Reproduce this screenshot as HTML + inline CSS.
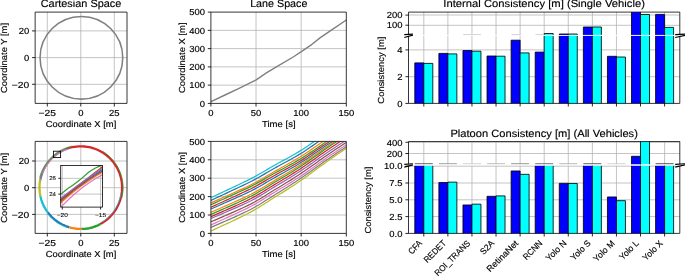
<!DOCTYPE html>
<html><head><meta charset="utf-8"><style>
html,body{margin:0;padding:0;background:#fff;}
svg{display:block;will-change:transform;}
text{font-family:"Liberation Sans", sans-serif;text-rendering:geometricPrecision;}
</style></head><body>
<svg width="685" height="276" viewBox="0 0 685 276">
<rect x="0" y="0" width="685" height="276" fill="#fff"/>
<line x1="47.30" y1="12.10" x2="47.30" y2="103.40" stroke="#b0b0b0" stroke-width="0.75"/>
<line x1="80.80" y1="12.10" x2="80.80" y2="103.40" stroke="#b0b0b0" stroke-width="0.75"/>
<line x1="114.30" y1="12.10" x2="114.30" y2="103.40" stroke="#b0b0b0" stroke-width="0.75"/>
<line x1="35.15" y1="30.90" x2="127.00" y2="30.90" stroke="#b0b0b0" stroke-width="0.75"/>
<line x1="35.15" y1="57.60" x2="127.00" y2="57.60" stroke="#b0b0b0" stroke-width="0.75"/>
<line x1="35.15" y1="84.30" x2="127.00" y2="84.30" stroke="#b0b0b0" stroke-width="0.75"/>
<circle cx="81.4" cy="57.8" r="41.35" fill="none" stroke="#808080" stroke-width="1.55"/>
<line x1="35.15" y1="12.10" x2="35.15" y2="103.40" stroke="#000" stroke-width="0.792"/>
<line x1="127.00" y1="12.10" x2="127.00" y2="103.40" stroke="#000" stroke-width="0.792"/>
<line x1="35.15" y1="12.10" x2="127.00" y2="12.10" stroke="#000" stroke-width="0.792"/>
<line x1="35.15" y1="103.40" x2="127.00" y2="103.40" stroke="#000" stroke-width="0.792"/>
<line x1="47.30" y1="103.40" x2="47.30" y2="106.50" stroke="#000" stroke-width="0.85"/>
<text x="47.30" y="115.60" font-size="8.75" text-anchor="middle" textLength="17.41" lengthAdjust="spacingAndGlyphs" fill="#000" stroke="#000" stroke-width="0.150">−25</text>
<line x1="80.80" y1="103.40" x2="80.80" y2="106.50" stroke="#000" stroke-width="0.85"/>
<text x="80.80" y="115.60" font-size="8.75" text-anchor="middle" textLength="5.25" lengthAdjust="spacingAndGlyphs" fill="#000" stroke="#000" stroke-width="0.150">0</text>
<line x1="114.30" y1="103.40" x2="114.30" y2="106.50" stroke="#000" stroke-width="0.85"/>
<text x="114.30" y="115.60" font-size="8.75" text-anchor="middle" textLength="10.50" lengthAdjust="spacingAndGlyphs" fill="#000" stroke="#000" stroke-width="0.150">25</text>
<line x1="32.05" y1="30.90" x2="35.15" y2="30.90" stroke="#000" stroke-width="0.85"/>
<text x="29.15" y="34.10" font-size="8.75" text-anchor="end" textLength="10.50" lengthAdjust="spacingAndGlyphs" fill="#000" stroke="#000" stroke-width="0.150">20</text>
<line x1="32.05" y1="57.60" x2="35.15" y2="57.60" stroke="#000" stroke-width="0.85"/>
<text x="29.15" y="60.80" font-size="8.75" text-anchor="end" textLength="5.25" lengthAdjust="spacingAndGlyphs" fill="#000" stroke="#000" stroke-width="0.150">0</text>
<line x1="32.05" y1="84.30" x2="35.15" y2="84.30" stroke="#000" stroke-width="0.85"/>
<text x="29.15" y="87.50" font-size="8.75" text-anchor="end" textLength="17.41" lengthAdjust="spacingAndGlyphs" fill="#000" stroke="#000" stroke-width="0.150">−20</text>
<text x="81.00" y="127.10" font-size="8.75" text-anchor="middle" textLength="70.60" lengthAdjust="spacingAndGlyphs" fill="#000" stroke="#000" stroke-width="0.150">Coordinate X [m]</text>
<text transform="translate(6.70,58.00) rotate(-90)" font-size="8.75" text-anchor="middle" textLength="69.98" lengthAdjust="spacingAndGlyphs" fill="#000" stroke="#000" stroke-width="0.150">Coordinate Y [m]</text>
<text x="81.00" y="7.00" font-size="10.49" text-anchor="middle" textLength="80.59" lengthAdjust="spacingAndGlyphs" fill="#000" stroke="#000" stroke-width="0.150">Cartesian Space</text>
<line x1="256.03" y1="12.10" x2="256.03" y2="103.40" stroke="#b0b0b0" stroke-width="0.75"/>
<line x1="301.17" y1="12.10" x2="301.17" y2="103.40" stroke="#b0b0b0" stroke-width="0.75"/>
<line x1="210.90" y1="85.14" x2="346.30" y2="85.14" stroke="#b0b0b0" stroke-width="0.75"/>
<line x1="210.90" y1="66.88" x2="346.30" y2="66.88" stroke="#b0b0b0" stroke-width="0.75"/>
<line x1="210.90" y1="48.62" x2="346.30" y2="48.62" stroke="#b0b0b0" stroke-width="0.75"/>
<line x1="210.90" y1="30.36" x2="346.30" y2="30.36" stroke="#b0b0b0" stroke-width="0.75"/>
<polyline points="211.00,101.70 225.00,95.00 238.00,88.90 256.20,79.80 266.00,73.20 276.00,67.10 294.00,56.50 301.30,51.70 312.00,44.30 320.00,37.90 324.00,35.10 331.00,30.30 346.30,20.00" fill="none" stroke="#808080" stroke-width="1.4" stroke-linejoin="round" stroke-linecap="butt"/>
<line x1="210.90" y1="12.10" x2="210.90" y2="103.40" stroke="#000" stroke-width="0.792"/>
<line x1="346.30" y1="12.10" x2="346.30" y2="103.40" stroke="#000" stroke-width="0.792"/>
<line x1="210.90" y1="12.10" x2="346.30" y2="12.10" stroke="#000" stroke-width="0.792"/>
<line x1="210.90" y1="103.40" x2="346.30" y2="103.40" stroke="#000" stroke-width="0.792"/>
<line x1="210.90" y1="103.40" x2="210.90" y2="106.50" stroke="#000" stroke-width="0.85"/>
<text x="210.90" y="115.60" font-size="8.75" text-anchor="middle" textLength="5.25" lengthAdjust="spacingAndGlyphs" fill="#000" stroke="#000" stroke-width="0.150">0</text>
<line x1="256.03" y1="103.40" x2="256.03" y2="106.50" stroke="#000" stroke-width="0.85"/>
<text x="256.03" y="115.60" font-size="8.75" text-anchor="middle" textLength="10.50" lengthAdjust="spacingAndGlyphs" fill="#000" stroke="#000" stroke-width="0.150">50</text>
<line x1="301.17" y1="103.40" x2="301.17" y2="106.50" stroke="#000" stroke-width="0.85"/>
<text x="301.17" y="115.60" font-size="8.75" text-anchor="middle" textLength="15.75" lengthAdjust="spacingAndGlyphs" fill="#000" stroke="#000" stroke-width="0.150">100</text>
<line x1="346.30" y1="103.40" x2="346.30" y2="106.50" stroke="#000" stroke-width="0.85"/>
<text x="346.30" y="115.60" font-size="8.75" text-anchor="middle" textLength="15.75" lengthAdjust="spacingAndGlyphs" fill="#000" stroke="#000" stroke-width="0.150">150</text>
<line x1="207.80" y1="103.40" x2="210.90" y2="103.40" stroke="#000" stroke-width="0.85"/>
<text x="204.90" y="106.60" font-size="8.75" text-anchor="end" textLength="5.25" lengthAdjust="spacingAndGlyphs" fill="#000" stroke="#000" stroke-width="0.150">0</text>
<line x1="207.80" y1="85.14" x2="210.90" y2="85.14" stroke="#000" stroke-width="0.85"/>
<text x="204.90" y="88.34" font-size="8.75" text-anchor="end" textLength="15.75" lengthAdjust="spacingAndGlyphs" fill="#000" stroke="#000" stroke-width="0.150">100</text>
<line x1="207.80" y1="66.88" x2="210.90" y2="66.88" stroke="#000" stroke-width="0.85"/>
<text x="204.90" y="70.08" font-size="8.75" text-anchor="end" textLength="15.75" lengthAdjust="spacingAndGlyphs" fill="#000" stroke="#000" stroke-width="0.150">200</text>
<line x1="207.80" y1="48.62" x2="210.90" y2="48.62" stroke="#000" stroke-width="0.85"/>
<text x="204.90" y="51.82" font-size="8.75" text-anchor="end" textLength="15.75" lengthAdjust="spacingAndGlyphs" fill="#000" stroke="#000" stroke-width="0.150">300</text>
<line x1="207.80" y1="30.36" x2="210.90" y2="30.36" stroke="#000" stroke-width="0.85"/>
<text x="204.90" y="33.56" font-size="8.75" text-anchor="end" textLength="15.75" lengthAdjust="spacingAndGlyphs" fill="#000" stroke="#000" stroke-width="0.150">400</text>
<line x1="207.80" y1="12.10" x2="210.90" y2="12.10" stroke="#000" stroke-width="0.85"/>
<text x="204.90" y="15.30" font-size="8.75" text-anchor="end" textLength="15.75" lengthAdjust="spacingAndGlyphs" fill="#000" stroke="#000" stroke-width="0.150">500</text>
<text x="278.80" y="127.10" font-size="8.75" text-anchor="middle" textLength="33.55" lengthAdjust="spacingAndGlyphs" fill="#000" stroke="#000" stroke-width="0.150">Time [s]</text>
<text transform="translate(184.60,57.80) rotate(-90)" font-size="8.75" text-anchor="middle" textLength="70.60" lengthAdjust="spacingAndGlyphs" fill="#000" stroke="#000" stroke-width="0.150">Coordinate X [m]</text>
<text x="278.80" y="7.00" font-size="10.49" text-anchor="middle" textLength="57.26" lengthAdjust="spacingAndGlyphs" fill="#000" stroke="#000" stroke-width="0.150">Lane Space</text>
<line x1="47.30" y1="141.40" x2="47.30" y2="233.40" stroke="#b0b0b0" stroke-width="0.75"/>
<line x1="80.80" y1="141.40" x2="80.80" y2="233.40" stroke="#b0b0b0" stroke-width="0.75"/>
<line x1="114.30" y1="141.40" x2="114.30" y2="233.40" stroke="#b0b0b0" stroke-width="0.75"/>
<line x1="35.15" y1="161.00" x2="127.00" y2="161.00" stroke="#b0b0b0" stroke-width="0.75"/>
<line x1="35.15" y1="187.70" x2="127.00" y2="187.70" stroke="#b0b0b0" stroke-width="0.75"/>
<line x1="35.15" y1="214.40" x2="127.00" y2="214.40" stroke="#b0b0b0" stroke-width="0.75"/>
<polyline points="100.19,224.07 102.06,223.01 103.87,221.85 105.62,220.61 107.31,219.27 108.92,217.85 110.46,216.34 111.91,214.76 113.28,213.11 114.56,211.38 115.76,209.59 116.85,207.75 117.85,205.84 118.75,203.89 119.55,201.89 120.24,199.86 120.82,197.79 121.30,195.70 121.67,193.58 121.92,191.44 122.07,189.30 122.10,187.15 122.02,185.00 121.83,182.86 121.53,180.73 121.11,178.62 120.59,176.54 119.96,174.48 119.23,172.46 118.39,170.48 117.45,168.55 116.40,166.67 115.27,164.85 114.04,163.09 112.72,161.39 111.31,159.76 109.82,158.22 108.25,156.75 106.61,155.36 104.90,154.06 103.12,152.85 101.28,151.74 99.39,150.72 97.45,149.80 95.46,148.99 93.43,148.28 91.36,147.67 89.27,147.18 87.16,146.79 85.03,146.52 82.88,146.35 80.74,146.30 78.59,146.36 76.44,146.53 74.31,146.81 72.20,147.21 70.11,147.71" fill="none" stroke="#d62728" stroke-width="2.3" stroke-linejoin="round" stroke-linecap="butt"/>
<polyline points="70.11,147.71 68.50,148.18 66.90,148.71 65.33,149.31" fill="none" stroke="#8c564b" stroke-width="2.3" stroke-linejoin="round" stroke-linecap="butt"/>
<polyline points="65.33,149.31 63.38,150.15 61.48,151.10 59.63,152.14 57.83,153.28 56.10,154.50 54.43,155.82 52.83,157.21 51.30,158.69 49.86,160.25 48.49,161.88 47.21,163.57 46.02,165.33 44.92,167.15 43.92,169.02 43.01,170.94 42.20,172.91 41.50,174.91 40.90,176.95 40.40,179.01" fill="none" stroke="#7f7f7f" stroke-width="2.3" stroke-linejoin="round" stroke-linecap="butt"/>
<polyline points="40.40,179.01 40.05,180.90 39.78,182.81 39.60,184.72 39.51,186.64 39.51,188.56 39.60,190.48 39.78,192.39 40.05,194.30 40.40,196.19" fill="none" stroke="#bcbd22" stroke-width="2.3" stroke-linejoin="round" stroke-linecap="butt"/>
<polyline points="40.40,196.19 40.87,198.13 41.42,200.06 42.07,201.95 42.81,203.81 43.64,205.63 44.56,207.41 45.57,209.15 46.65,210.83 47.82,212.45" fill="none" stroke="#17becf" stroke-width="2.3" stroke-linejoin="round" stroke-linecap="butt"/>
<polyline points="47.82,212.45 49.09,214.06 50.44,215.60 51.87,217.08 53.37,218.48 54.94,219.80 56.57,221.04 58.26,222.21 60.01,223.28 61.80,224.27 63.65,225.17 65.53,225.98 67.46,226.69 69.42,227.30" fill="none" stroke="#1f77b4" stroke-width="2.3" stroke-linejoin="round" stroke-linecap="butt"/>
<polyline points="69.42,227.30 71.39,227.81 73.39,228.23 75.41,228.55 77.44,228.76 79.48,228.88 81.52,228.89" fill="none" stroke="#ff7f0e" stroke-width="2.3" stroke-linejoin="round" stroke-linecap="butt"/>
<polyline points="81.52,228.89 83.47,228.81 85.40,228.64 87.33,228.38 89.25,228.03 91.14,227.58 93.01,227.05 94.86,226.43 96.67,225.73 98.45,224.94 100.19,224.07" fill="none" stroke="#2ca02c" stroke-width="2.3" stroke-linejoin="round" stroke-linecap="butt"/>
<polyline points="121.61,198.54 122.11,196.44 122.51,194.33 122.80,192.19 122.98,190.05 123.05,187.89 123.01,185.74 122.86,183.59 122.60,181.46 122.23,179.34 121.76,177.24 121.18,175.16 120.49,173.12 119.70,171.12 118.81,169.16 117.82,167.25 116.74,165.39 115.56,163.58 114.29,161.84 112.94,160.17 111.50,158.57 109.98,157.04 108.38,155.60 106.72,154.23 104.99,152.96 103.19,151.77" fill="none" stroke="#2ca02c" stroke-width="0.75" stroke-linejoin="round" stroke-linecap="butt"/>
<polyline points="71.99,146.18 69.90,146.68 67.84,147.28 65.81,147.99 63.82,148.80 61.87,149.71 59.98,150.72 58.13,151.83 56.34,153.02 54.62,154.31 52.97,155.68 51.38,157.14 49.87,158.67 48.44,160.28 47.10,161.95 45.84,163.70 44.67,165.50 43.60,167.36 42.62,169.28 41.74,171.24 40.96,173.24 40.28,175.28 39.71,177.35" fill="none" stroke="#2ca02c" stroke-width="0.6" stroke-linejoin="round" stroke-linecap="butt"/>
<polyline points="47.10,213.00 48.43,214.68 49.85,216.29 51.35,217.83 52.93,219.29 54.58,220.66 56.29,221.96 58.07,223.16 59.91,224.27 61.81,225.28 63.75,226.20 65.73,227.02 67.76,227.73" fill="none" stroke="#17becf" stroke-width="0.75" stroke-linejoin="round" stroke-linecap="butt"/>
<polyline points="84.47,229.59 86.58,229.35 88.66,229.01 90.73,228.56 92.77,228.01 94.78,227.36 96.76,226.61 98.70,225.76 100.59,224.82" fill="none" stroke="#2ca02c" stroke-width="0.75" stroke-linejoin="round" stroke-linecap="butt"/>
<polyline points="68.25,148.99 66.32,149.67 64.43,150.45 62.58,151.32 60.77,152.28 59.02,153.34 57.32,154.48 55.68,155.70 54.10,157.01 52.60,158.39 51.16,159.85 49.80,161.38 48.52,162.98 47.32,164.64 46.20,166.35 45.18,168.12 44.24,169.94 43.40,171.81 42.65,173.71" fill="none" stroke="#e377c2" stroke-width="1.0" stroke-linejoin="round" stroke-linecap="butt"/>
<polyline points="101.03,222.63 102.76,221.57 104.45,220.42 106.07,219.18 107.63,217.87 109.12,216.48 110.54,215.01 111.89,213.48 113.15,211.88 114.33,210.22 115.43,208.50 116.44,206.73 117.36,204.91 118.19,203.04 118.92,201.14 119.55,199.20 120.09,197.23 120.52,195.24 120.86,193.23" fill="none" stroke="#17becf" stroke-width="0.75" stroke-linejoin="round" stroke-linecap="butt"/>
<polyline points="42.65,173.71 42.08,175.39 41.58,177.09 41.16,178.81 40.82,180.55" fill="none" stroke="#9467bd" stroke-width="0.8" stroke-linejoin="round" stroke-linecap="butt"/>
<rect x="53.50" y="151.20" width="7.10" height="6.40" fill="none" stroke="#000" stroke-width="0.85"/>
<rect x="60.70" y="165.50" width="41.90" height="41.60" fill="#fff" stroke="none" stroke-width="0.8"/>
<line x1="62.30" y1="165.50" x2="62.30" y2="207.10" stroke="#b0b0b0" stroke-width="0.75"/>
<line x1="100.60" y1="165.50" x2="100.60" y2="207.10" stroke="#b0b0b0" stroke-width="0.75"/>
<line x1="60.70" y1="178.30" x2="102.60" y2="178.30" stroke="#b0b0b0" stroke-width="0.75"/>
<line x1="60.70" y1="194.10" x2="102.60" y2="194.10" stroke="#b0b0b0" stroke-width="0.75"/>
<clipPath id="inset"><rect x="60.7" y="165.5" width="41.89999999999999" height="41.599999999999994"/></clipPath>
<g clip-path="url(#inset)">
<polyline points="59.50,200.80 63.12,197.88 66.75,195.02 70.38,192.21 74.00,189.45 77.62,186.74 81.25,184.09 84.88,181.49 88.50,178.95 92.12,176.46 95.75,174.02 99.38,171.63 103.00,169.30" fill="none" stroke="#1f77b4" stroke-width="1.2374999999999998" stroke-linejoin="round" stroke-linecap="butt"/>
<polyline points="59.50,204.00 63.12,200.74 66.75,197.60 70.38,194.56 74.00,191.62 77.62,188.79 81.25,186.07 84.88,183.46 88.50,180.95 92.12,178.56 95.75,176.26 99.38,174.08 103.00,172.00" fill="none" stroke="#ff7f0e" stroke-width="1.2374999999999998" stroke-linejoin="round" stroke-linecap="butt"/>
<polyline points="59.50,194.80 62.00,193.20 67.80,188.40 72.50,185.40 80.30,179.60 88.90,172.00 95.00,168.30 100.60,165.60 103.00,164.60" fill="none" stroke="#2ca02c" stroke-width="1.2374999999999998" stroke-linejoin="round" stroke-linecap="butt"/>
<polyline points="59.50,200.50 63.12,197.62 66.75,194.75 70.38,191.89 74.00,189.03 77.62,186.17 81.25,183.32 84.88,180.47 88.50,177.63 92.12,174.79 95.75,171.95 99.38,169.12 103.00,166.30" fill="none" stroke="#d62728" stroke-width="1.2374999999999998" stroke-linejoin="round" stroke-linecap="butt"/>
<polyline points="59.50,199.40 63.12,196.54 66.75,193.73 70.38,190.96 74.00,188.23 77.62,185.54 81.25,182.89 84.88,180.29 88.50,177.73 92.12,175.21 95.75,172.73 99.38,170.29 103.00,167.90" fill="none" stroke="#9467bd" stroke-width="1.2374999999999998" stroke-linejoin="round" stroke-linecap="butt"/>
<polyline points="59.50,202.50 63.12,199.32 66.75,196.24 70.38,193.25 74.00,190.36 77.62,187.57 81.25,184.88 84.88,182.29 88.50,179.80 92.12,177.40 95.75,175.10 99.38,172.90 103.00,170.80" fill="none" stroke="#8c564b" stroke-width="1.2374999999999998" stroke-linejoin="round" stroke-linecap="butt"/>
<polyline points="59.50,208.60 63.12,204.83 66.75,201.23 70.38,197.80 74.00,194.53 77.62,191.44 81.25,188.51 84.88,185.75 88.50,183.16 92.12,180.75 95.75,178.49 99.38,176.41 103.00,174.50" fill="none" stroke="#e377c2" stroke-width="1.2374999999999998" stroke-linejoin="round" stroke-linecap="butt"/>
</g>
<rect x="60.70" y="165.50" width="41.90" height="41.60" fill="none" stroke="#000" stroke-width="0.792"/>
<line x1="62.30" y1="207.10" x2="62.30" y2="209.50" stroke="#000" stroke-width="0.85"/>
<line x1="100.60" y1="207.10" x2="100.60" y2="209.50" stroke="#000" stroke-width="0.85"/>
<line x1="58.30" y1="178.30" x2="60.70" y2="178.30" stroke="#000" stroke-width="0.85"/>
<line x1="58.30" y1="194.10" x2="60.70" y2="194.10" stroke="#000" stroke-width="0.85"/>
<text x="62.30" y="216.60" font-size="5.62" text-anchor="middle" textLength="11.18" lengthAdjust="spacingAndGlyphs" fill="#000" stroke="#000" stroke-width="0.062">−20</text>
<text x="100.60" y="216.60" font-size="5.62" text-anchor="middle" textLength="11.18" lengthAdjust="spacingAndGlyphs" fill="#000" stroke="#000" stroke-width="0.062">−15</text>
<text x="56.00" y="180.30" font-size="5.62" text-anchor="end" textLength="6.74" lengthAdjust="spacingAndGlyphs" fill="#000" stroke="#000" stroke-width="0.062">26</text>
<text x="56.00" y="196.30" font-size="5.62" text-anchor="end" textLength="6.74" lengthAdjust="spacingAndGlyphs" fill="#000" stroke="#000" stroke-width="0.062">24</text>
<line x1="35.15" y1="141.40" x2="35.15" y2="233.40" stroke="#000" stroke-width="0.792"/>
<line x1="127.00" y1="141.40" x2="127.00" y2="233.40" stroke="#000" stroke-width="0.792"/>
<line x1="35.15" y1="141.40" x2="127.00" y2="141.40" stroke="#000" stroke-width="0.792"/>
<line x1="35.15" y1="233.40" x2="127.00" y2="233.40" stroke="#000" stroke-width="0.792"/>
<line x1="47.30" y1="233.40" x2="47.30" y2="236.50" stroke="#000" stroke-width="0.85"/>
<text x="47.30" y="245.60" font-size="8.75" text-anchor="middle" textLength="17.41" lengthAdjust="spacingAndGlyphs" fill="#000" stroke="#000" stroke-width="0.150">−25</text>
<line x1="80.80" y1="233.40" x2="80.80" y2="236.50" stroke="#000" stroke-width="0.85"/>
<text x="80.80" y="245.60" font-size="8.75" text-anchor="middle" textLength="5.25" lengthAdjust="spacingAndGlyphs" fill="#000" stroke="#000" stroke-width="0.150">0</text>
<line x1="114.30" y1="233.40" x2="114.30" y2="236.50" stroke="#000" stroke-width="0.85"/>
<text x="114.30" y="245.60" font-size="8.75" text-anchor="middle" textLength="10.50" lengthAdjust="spacingAndGlyphs" fill="#000" stroke="#000" stroke-width="0.150">25</text>
<line x1="32.05" y1="161.00" x2="35.15" y2="161.00" stroke="#000" stroke-width="0.85"/>
<text x="29.15" y="164.20" font-size="8.75" text-anchor="end" textLength="10.50" lengthAdjust="spacingAndGlyphs" fill="#000" stroke="#000" stroke-width="0.150">20</text>
<line x1="32.05" y1="187.70" x2="35.15" y2="187.70" stroke="#000" stroke-width="0.85"/>
<text x="29.15" y="190.90" font-size="8.75" text-anchor="end" textLength="5.25" lengthAdjust="spacingAndGlyphs" fill="#000" stroke="#000" stroke-width="0.150">0</text>
<line x1="32.05" y1="214.40" x2="35.15" y2="214.40" stroke="#000" stroke-width="0.85"/>
<text x="29.15" y="217.60" font-size="8.75" text-anchor="end" textLength="17.41" lengthAdjust="spacingAndGlyphs" fill="#000" stroke="#000" stroke-width="0.150">−20</text>
<text x="81.00" y="257.10" font-size="8.75" text-anchor="middle" textLength="70.60" lengthAdjust="spacingAndGlyphs" fill="#000" stroke="#000" stroke-width="0.150">Coordinate X [m]</text>
<text transform="translate(6.70,187.80) rotate(-90)" font-size="8.75" text-anchor="middle" textLength="69.98" lengthAdjust="spacingAndGlyphs" fill="#000" stroke="#000" stroke-width="0.150">Coordinate Y [m]</text>
<line x1="256.03" y1="141.40" x2="256.03" y2="233.40" stroke="#b0b0b0" stroke-width="0.75"/>
<line x1="301.17" y1="141.40" x2="301.17" y2="233.40" stroke="#b0b0b0" stroke-width="0.75"/>
<line x1="210.90" y1="215.00" x2="346.30" y2="215.00" stroke="#b0b0b0" stroke-width="0.75"/>
<line x1="210.90" y1="196.60" x2="346.30" y2="196.60" stroke="#b0b0b0" stroke-width="0.75"/>
<line x1="210.90" y1="178.20" x2="346.30" y2="178.20" stroke="#b0b0b0" stroke-width="0.75"/>
<line x1="210.90" y1="159.80" x2="346.30" y2="159.80" stroke="#b0b0b0" stroke-width="0.75"/>
<clipPath id="bm"><rect x="210.9" y="141.4" width="135.4" height="92.0"/></clipPath>
<g clip-path="url(#bm)">
<polyline points="211.00,209.00 215.00,207.22 219.00,205.45 223.00,203.68 225.00,202.80 227.00,201.92 231.00,200.17 235.00,198.39 238.00,197.05 239.00,196.59 243.00,194.77 247.00,192.93 251.00,190.98 255.00,188.89 256.10,188.30 256.20,188.25 259.00,186.69 263.00,184.42 266.00,182.65 267.00,182.05 271.00,179.71 275.00,177.42 276.00,176.86 279.00,175.19 283.00,172.97 287.00,170.75 291.00,168.48 294.00,166.75 295.00,166.16 299.00,163.75 301.20,162.40 301.30,162.34 303.00,161.28 307.00,158.68 311.00,155.97 312.00,155.29 315.00,153.23 319.00,150.50 320.00,149.81 323.00,147.77 324.00,147.09 327.00,145.10 331.00,142.53 335.00,140.00 339.00,137.48 343.00,134.97 346.30,132.90 347.00,132.46 352.00,129.33" fill="none" stroke="#1f77b4" stroke-width="1.2374999999999998" stroke-linejoin="round" stroke-linecap="butt"/>
<polyline points="211.00,212.20 215.00,210.45 219.00,208.71 223.00,206.96 225.00,206.09 227.00,205.22 231.00,203.48 235.00,201.71 238.00,200.37 239.00,199.91 243.00,198.09 247.00,196.23 251.00,194.24 255.00,192.11 256.10,191.50 256.20,191.44 259.00,189.85 263.00,187.50 266.00,185.67 267.00,185.05 271.00,182.61 275.00,180.23 276.00,179.64 279.00,177.89 283.00,175.55 287.00,173.22 291.00,170.82 294.00,168.99 295.00,168.37 299.00,165.83 301.20,164.40 301.30,164.34 303.00,163.25 307.00,160.58 311.00,157.81 312.00,157.11 315.00,155.00 319.00,152.19 320.00,151.49 323.00,149.39 324.00,148.69 327.00,146.65 331.00,144.02 335.00,141.42 339.00,138.84 343.00,136.27 346.30,134.14 347.00,133.69 352.00,130.48" fill="none" stroke="#ff7f0e" stroke-width="1.2374999999999998" stroke-linejoin="round" stroke-linecap="butt"/>
<polyline points="211.00,214.40 215.00,212.64 219.00,210.88 223.00,209.12 225.00,208.25 227.00,207.37 231.00,205.61 235.00,203.82 238.00,202.47 239.00,202.01 243.00,200.16 247.00,198.28 251.00,196.27 255.00,194.11 256.10,193.50 256.20,193.44 259.00,191.83 263.00,189.45 266.00,187.59 267.00,186.97 271.00,184.50 275.00,182.07 276.00,181.48 279.00,179.70 283.00,177.33 287.00,174.96 291.00,172.53 294.00,170.66 295.00,170.03 299.00,167.45 301.20,166.00 301.30,165.94 303.00,164.84 307.00,162.13 311.00,159.33 312.00,158.62 315.00,156.48 319.00,153.64 320.00,152.92 323.00,150.80 324.00,150.10 327.00,148.03 331.00,145.36 335.00,142.73 339.00,140.12 343.00,137.51 346.30,135.36 347.00,134.91 352.00,131.65" fill="none" stroke="#2ca02c" stroke-width="1.2374999999999998" stroke-linejoin="round" stroke-linecap="butt"/>
<polyline points="211.00,216.60 215.00,214.85 219.00,213.11 223.00,211.36 225.00,210.49 227.00,209.62 231.00,207.87 235.00,206.10 238.00,204.75 239.00,204.29 243.00,202.45 247.00,200.58 251.00,198.57 255.00,196.41 256.10,195.80 256.20,195.74 259.00,194.13 263.00,191.75 266.00,189.89 267.00,189.26 271.00,186.78 275.00,184.35 276.00,183.76 279.00,181.97 283.00,179.59 287.00,177.20 291.00,174.76 294.00,172.89 295.00,172.25 299.00,169.66 301.20,168.20 301.30,168.14 303.00,167.04 307.00,164.33 311.00,161.53 312.00,160.82 315.00,158.68 319.00,155.84 320.00,155.12 323.00,153.00 324.00,152.30 327.00,150.23 331.00,147.56 335.00,144.93 339.00,142.32 343.00,139.71 346.30,137.56 347.00,137.11 352.00,133.85" fill="none" stroke="#d62728" stroke-width="1.2374999999999998" stroke-linejoin="round" stroke-linecap="butt"/>
<polyline points="211.00,218.50 215.00,216.78 219.00,215.07 223.00,213.36 225.00,212.50 227.00,211.65 231.00,209.93 235.00,208.18 238.00,206.85 239.00,206.40 243.00,204.58 247.00,202.73 251.00,200.74 255.00,198.61 256.10,198.00 256.20,197.94 259.00,196.34 263.00,193.98 266.00,192.13 267.00,191.51 271.00,189.04 275.00,186.62 276.00,186.03 279.00,184.24 283.00,181.87 287.00,179.49 291.00,177.05 294.00,175.18 295.00,174.54 299.00,171.96 301.20,170.50 301.30,170.44 303.00,169.35 307.00,166.67 311.00,163.88 312.00,163.18 315.00,161.06 319.00,158.24 320.00,157.53 323.00,155.43 324.00,154.73 327.00,152.68 331.00,150.03 335.00,147.43 339.00,144.83 343.00,142.25 346.30,140.12 347.00,139.67 352.00,136.44" fill="none" stroke="#9467bd" stroke-width="1.2374999999999998" stroke-linejoin="round" stroke-linecap="butt"/>
<polyline points="211.00,221.80 215.00,220.07 219.00,218.34 223.00,216.62 225.00,215.75 227.00,214.89 231.00,213.16 235.00,211.39 238.00,210.05 239.00,209.60 243.00,207.76 247.00,205.89 251.00,203.88 255.00,201.72 256.10,201.10 256.20,201.04 259.00,199.42 263.00,197.03 266.00,195.15 267.00,194.52 271.00,192.02 275.00,189.57 276.00,188.96 279.00,187.16 283.00,184.75 287.00,182.33 291.00,179.85 294.00,177.95 295.00,177.31 299.00,174.68 301.20,173.20 301.30,173.14 303.00,172.03 307.00,169.32 311.00,166.50 312.00,165.79 315.00,163.64 319.00,160.79 320.00,160.07 323.00,157.94 324.00,157.23 327.00,155.16 331.00,152.48 335.00,149.84 339.00,147.21 343.00,144.60 346.30,142.44 347.00,141.98 352.00,138.71" fill="none" stroke="#8c564b" stroke-width="1.2374999999999998" stroke-linejoin="round" stroke-linecap="butt"/>
<polyline points="211.00,224.90 215.00,223.09 219.00,221.27 223.00,219.47 225.00,218.56 227.00,217.66 231.00,215.85 235.00,214.02 238.00,212.64 239.00,212.17 243.00,210.28 247.00,208.36 251.00,206.31 255.00,204.12 256.10,203.50 256.20,203.44 259.00,201.81 263.00,199.40 266.00,197.52 267.00,196.89 271.00,194.39 275.00,191.95 276.00,191.35 279.00,189.56 283.00,187.18 287.00,184.79 291.00,182.35 294.00,180.48 295.00,179.84 299.00,177.26 301.20,175.80 301.30,175.73 303.00,174.62 307.00,171.88 311.00,169.03 312.00,168.31 315.00,166.14 319.00,163.26 320.00,162.53 323.00,160.38 324.00,159.67 327.00,157.57 331.00,154.86 335.00,152.20 339.00,149.55 343.00,146.90 346.30,144.72 347.00,144.26 352.00,140.96" fill="none" stroke="#e377c2" stroke-width="1.2374999999999998" stroke-linejoin="round" stroke-linecap="butt"/>
<polyline points="211.00,227.40 215.00,225.65 219.00,223.90 223.00,222.15 225.00,221.27 227.00,220.40 231.00,218.64 235.00,216.85 238.00,215.49 239.00,215.03 243.00,213.17 247.00,211.26 251.00,209.22 255.00,207.03 256.10,206.40 256.20,206.34 259.00,204.69 263.00,202.26 266.00,200.35 267.00,199.71 271.00,197.17 275.00,194.67 276.00,194.05 279.00,192.21 283.00,189.76 287.00,187.30 291.00,184.78 294.00,182.84 295.00,182.18 299.00,179.51 301.20,178.00 301.30,177.93 303.00,176.81 307.00,174.05 311.00,171.19 312.00,170.47 315.00,168.28 319.00,165.38 320.00,164.65 323.00,162.49 324.00,161.77 327.00,159.66 331.00,156.94 335.00,154.25 339.00,151.59 343.00,148.92 346.30,146.73 347.00,146.27 352.00,142.94" fill="none" stroke="#7f7f7f" stroke-width="1.2374999999999998" stroke-linejoin="round" stroke-linecap="butt"/>
<polyline points="211.00,231.00 215.00,229.14 219.00,227.28 223.00,225.43 225.00,224.50 227.00,223.58 231.00,221.72 235.00,219.84 238.00,218.41 239.00,217.93 243.00,215.99 247.00,214.01 251.00,211.90 255.00,209.64 256.10,209.00 256.20,208.94 259.00,207.25 263.00,204.76 266.00,202.82 267.00,202.17 271.00,199.58 275.00,197.05 276.00,196.43 279.00,194.57 283.00,192.10 287.00,189.63 291.00,187.10 294.00,185.16 295.00,184.50 299.00,181.81 301.20,180.30 301.30,180.23 303.00,179.08 307.00,176.25 311.00,173.31 312.00,172.57 315.00,170.33 319.00,167.35 320.00,166.60 323.00,164.38 324.00,163.64 327.00,161.48 331.00,158.68 335.00,155.93 339.00,153.19 343.00,150.46 346.30,148.21 347.00,147.73 352.00,144.32" fill="none" stroke="#bcbd22" stroke-width="1.2374999999999998" stroke-linejoin="round" stroke-linecap="butt"/>
<polyline points="211.00,197.70 215.00,195.79 219.00,193.89 223.00,191.99 225.00,191.05 227.00,190.11 231.00,188.24 235.00,186.35 238.00,184.94 239.00,184.46 243.00,182.56 247.00,180.65 251.00,178.63 255.00,176.50 256.10,175.90 256.20,175.85 259.00,174.27 263.00,171.97 266.00,170.19 267.00,169.60 271.00,167.26 275.00,164.99 276.00,164.43 279.00,162.79 283.00,160.61 287.00,158.44 291.00,156.23 294.00,154.54 295.00,153.96 299.00,151.62 301.20,150.30 301.30,150.24 303.00,149.16 307.00,146.51 311.00,143.76 312.00,143.07 315.00,140.98 319.00,138.19 320.00,137.49 323.00,135.41 324.00,134.73 327.00,132.70 331.00,130.09 335.00,127.52 339.00,124.95 343.00,122.40 346.30,120.30 347.00,119.85 352.00,116.66" fill="none" stroke="#17becf" stroke-width="1.2374999999999998" stroke-linejoin="round" stroke-linecap="butt"/>
<polyline points="211.00,200.40 215.00,198.51 219.00,196.63 223.00,194.75 225.00,193.82 227.00,192.89 231.00,191.04 235.00,189.17 238.00,187.77 239.00,187.30 243.00,185.41 247.00,183.52 251.00,181.51 255.00,179.40 256.10,178.80 256.20,178.75 259.00,177.18 263.00,174.90 266.00,173.13 267.00,172.53 271.00,170.20 275.00,167.94 276.00,167.39 279.00,165.75 283.00,163.58 287.00,161.42 291.00,159.21 294.00,157.52 295.00,156.95 299.00,154.62 301.20,153.30 301.30,153.24 303.00,152.17 307.00,149.54 311.00,146.80 312.00,146.12 315.00,144.04 319.00,141.27 320.00,140.57 323.00,138.51 324.00,137.82 327.00,135.81 331.00,133.22 335.00,130.66 339.00,128.11 343.00,125.58 346.30,123.49 347.00,123.04 352.00,119.87" fill="none" stroke="#1f77b4" stroke-width="1.2374999999999998" stroke-linejoin="round" stroke-linecap="butt"/>
<polyline points="211.00,202.90 215.00,201.11 219.00,199.33 223.00,197.55 225.00,196.66 227.00,195.78 231.00,194.01 235.00,192.22 238.00,190.87 239.00,190.42 243.00,188.59 247.00,186.74 251.00,184.78 255.00,182.69 256.10,182.10 256.20,182.05 259.00,180.49 263.00,178.21 266.00,176.44 267.00,175.84 271.00,173.49 275.00,171.21 276.00,170.65 279.00,168.97 283.00,166.76 287.00,164.54 291.00,162.28 294.00,160.54 295.00,159.95 299.00,157.55 301.20,156.20 301.30,156.14 303.00,155.08 307.00,152.47 311.00,149.76 312.00,149.08 315.00,147.02 319.00,144.27 320.00,143.58 323.00,141.53 324.00,140.86 327.00,138.86 331.00,136.29 335.00,133.75 339.00,131.23 343.00,128.71 346.30,126.64 347.00,126.20 352.00,123.06" fill="none" stroke="#ff7f0e" stroke-width="1.2374999999999998" stroke-linejoin="round" stroke-linecap="butt"/>
<polyline points="211.00,204.70 215.00,202.87 219.00,201.05 223.00,199.24 225.00,198.33 227.00,197.43 231.00,195.63 235.00,193.83 238.00,192.46 239.00,192.00 243.00,190.17 247.00,188.32 251.00,186.36 255.00,184.29 256.10,183.70 256.20,183.65 259.00,182.11 263.00,179.86 266.00,178.12 267.00,177.54 271.00,175.24 275.00,173.01 276.00,172.47 279.00,170.84 283.00,168.69 287.00,166.55 291.00,164.36 294.00,162.69 295.00,162.12 299.00,159.81 301.20,158.50 301.30,158.44 303.00,157.39 307.00,154.81 311.00,152.13 312.00,151.46 315.00,149.41 319.00,146.70 320.00,146.02 323.00,143.99 324.00,143.32 327.00,141.35 331.00,138.80 335.00,136.29 339.00,133.80 343.00,131.31 346.30,129.26 347.00,128.82 352.00,125.71" fill="none" stroke="#2ca02c" stroke-width="1.2374999999999998" stroke-linejoin="round" stroke-linecap="butt"/>
<polyline points="211.00,207.20 215.00,205.36 219.00,203.52 223.00,201.69 225.00,200.78 227.00,199.87 231.00,198.05 235.00,196.23 238.00,194.85 239.00,194.39 243.00,192.53 247.00,190.66 251.00,188.69 255.00,186.59 256.10,186.00 256.20,185.95 259.00,184.39 263.00,182.12 266.00,180.36 267.00,179.77 271.00,177.45 275.00,175.19 276.00,174.64 279.00,173.00 283.00,170.82 287.00,168.65 291.00,166.44 294.00,164.74 295.00,164.17 299.00,161.82 301.20,160.50 301.30,160.44 303.00,159.38 307.00,156.77 311.00,154.06 312.00,153.38 315.00,151.32 319.00,148.57 320.00,147.88 323.00,145.83 324.00,145.16 327.00,143.16 331.00,140.59 335.00,138.05 339.00,135.53 343.00,133.01 346.30,130.94 347.00,130.50 352.00,127.36" fill="none" stroke="#d62728" stroke-width="1.2374999999999998" stroke-linejoin="round" stroke-linecap="butt"/>
</g>
<line x1="210.90" y1="141.40" x2="210.90" y2="233.40" stroke="#000" stroke-width="0.792"/>
<line x1="346.30" y1="141.40" x2="346.30" y2="233.40" stroke="#000" stroke-width="0.792"/>
<line x1="210.90" y1="141.40" x2="346.30" y2="141.40" stroke="#000" stroke-width="0.792"/>
<line x1="210.90" y1="233.40" x2="346.30" y2="233.40" stroke="#000" stroke-width="0.792"/>
<line x1="210.90" y1="233.40" x2="210.90" y2="236.50" stroke="#000" stroke-width="0.85"/>
<text x="210.90" y="245.60" font-size="8.75" text-anchor="middle" textLength="5.25" lengthAdjust="spacingAndGlyphs" fill="#000" stroke="#000" stroke-width="0.150">0</text>
<line x1="256.03" y1="233.40" x2="256.03" y2="236.50" stroke="#000" stroke-width="0.85"/>
<text x="256.03" y="245.60" font-size="8.75" text-anchor="middle" textLength="10.50" lengthAdjust="spacingAndGlyphs" fill="#000" stroke="#000" stroke-width="0.150">50</text>
<line x1="301.17" y1="233.40" x2="301.17" y2="236.50" stroke="#000" stroke-width="0.85"/>
<text x="301.17" y="245.60" font-size="8.75" text-anchor="middle" textLength="15.75" lengthAdjust="spacingAndGlyphs" fill="#000" stroke="#000" stroke-width="0.150">100</text>
<line x1="346.30" y1="233.40" x2="346.30" y2="236.50" stroke="#000" stroke-width="0.85"/>
<text x="346.30" y="245.60" font-size="8.75" text-anchor="middle" textLength="15.75" lengthAdjust="spacingAndGlyphs" fill="#000" stroke="#000" stroke-width="0.150">150</text>
<line x1="207.80" y1="233.40" x2="210.90" y2="233.40" stroke="#000" stroke-width="0.85"/>
<text x="204.90" y="236.60" font-size="8.75" text-anchor="end" textLength="5.25" lengthAdjust="spacingAndGlyphs" fill="#000" stroke="#000" stroke-width="0.150">0</text>
<line x1="207.80" y1="215.00" x2="210.90" y2="215.00" stroke="#000" stroke-width="0.85"/>
<text x="204.90" y="218.20" font-size="8.75" text-anchor="end" textLength="15.75" lengthAdjust="spacingAndGlyphs" fill="#000" stroke="#000" stroke-width="0.150">100</text>
<line x1="207.80" y1="196.60" x2="210.90" y2="196.60" stroke="#000" stroke-width="0.85"/>
<text x="204.90" y="199.80" font-size="8.75" text-anchor="end" textLength="15.75" lengthAdjust="spacingAndGlyphs" fill="#000" stroke="#000" stroke-width="0.150">200</text>
<line x1="207.80" y1="178.20" x2="210.90" y2="178.20" stroke="#000" stroke-width="0.85"/>
<text x="204.90" y="181.40" font-size="8.75" text-anchor="end" textLength="15.75" lengthAdjust="spacingAndGlyphs" fill="#000" stroke="#000" stroke-width="0.150">300</text>
<line x1="207.80" y1="159.80" x2="210.90" y2="159.80" stroke="#000" stroke-width="0.85"/>
<text x="204.90" y="163.00" font-size="8.75" text-anchor="end" textLength="15.75" lengthAdjust="spacingAndGlyphs" fill="#000" stroke="#000" stroke-width="0.150">400</text>
<line x1="207.80" y1="141.40" x2="210.90" y2="141.40" stroke="#000" stroke-width="0.85"/>
<text x="204.90" y="144.60" font-size="8.75" text-anchor="end" textLength="15.75" lengthAdjust="spacingAndGlyphs" fill="#000" stroke="#000" stroke-width="0.150">500</text>
<text x="278.80" y="257.10" font-size="8.75" text-anchor="middle" textLength="33.55" lengthAdjust="spacingAndGlyphs" fill="#000" stroke="#000" stroke-width="0.150">Time [s]</text>
<text transform="translate(184.60,187.40) rotate(-90)" font-size="8.75" text-anchor="middle" textLength="70.60" lengthAdjust="spacingAndGlyphs" fill="#000" stroke="#000" stroke-width="0.150">Coordinate X [m]</text>
<line x1="423.80" y1="12.10" x2="423.80" y2="34.90" stroke="#b0b0b0" stroke-width="0.75"/>
<line x1="423.80" y1="35.90" x2="423.80" y2="103.40" stroke="#b0b0b0" stroke-width="0.75"/>
<line x1="447.88" y1="12.10" x2="447.88" y2="34.90" stroke="#b0b0b0" stroke-width="0.75"/>
<line x1="447.88" y1="35.90" x2="447.88" y2="103.40" stroke="#b0b0b0" stroke-width="0.75"/>
<line x1="471.96" y1="12.10" x2="471.96" y2="34.90" stroke="#b0b0b0" stroke-width="0.75"/>
<line x1="471.96" y1="35.90" x2="471.96" y2="103.40" stroke="#b0b0b0" stroke-width="0.75"/>
<line x1="496.04" y1="12.10" x2="496.04" y2="34.90" stroke="#b0b0b0" stroke-width="0.75"/>
<line x1="496.04" y1="35.90" x2="496.04" y2="103.40" stroke="#b0b0b0" stroke-width="0.75"/>
<line x1="520.12" y1="12.10" x2="520.12" y2="34.90" stroke="#b0b0b0" stroke-width="0.75"/>
<line x1="520.12" y1="35.90" x2="520.12" y2="103.40" stroke="#b0b0b0" stroke-width="0.75"/>
<line x1="544.20" y1="12.10" x2="544.20" y2="34.90" stroke="#b0b0b0" stroke-width="0.75"/>
<line x1="544.20" y1="35.90" x2="544.20" y2="103.40" stroke="#b0b0b0" stroke-width="0.75"/>
<line x1="568.28" y1="12.10" x2="568.28" y2="34.90" stroke="#b0b0b0" stroke-width="0.75"/>
<line x1="568.28" y1="35.90" x2="568.28" y2="103.40" stroke="#b0b0b0" stroke-width="0.75"/>
<line x1="592.36" y1="12.10" x2="592.36" y2="34.90" stroke="#b0b0b0" stroke-width="0.75"/>
<line x1="592.36" y1="35.90" x2="592.36" y2="103.40" stroke="#b0b0b0" stroke-width="0.75"/>
<line x1="616.44" y1="12.10" x2="616.44" y2="34.90" stroke="#b0b0b0" stroke-width="0.75"/>
<line x1="616.44" y1="35.90" x2="616.44" y2="103.40" stroke="#b0b0b0" stroke-width="0.75"/>
<line x1="640.52" y1="12.10" x2="640.52" y2="34.90" stroke="#b0b0b0" stroke-width="0.75"/>
<line x1="640.52" y1="35.90" x2="640.52" y2="103.40" stroke="#b0b0b0" stroke-width="0.75"/>
<line x1="664.60" y1="12.10" x2="664.60" y2="34.90" stroke="#b0b0b0" stroke-width="0.75"/>
<line x1="664.60" y1="35.90" x2="664.60" y2="103.40" stroke="#b0b0b0" stroke-width="0.75"/>
<line x1="408.50" y1="15.00" x2="679.80" y2="15.00" stroke="#b0b0b0" stroke-width="0.75"/>
<line x1="408.50" y1="25.30" x2="679.80" y2="25.30" stroke="#b0b0b0" stroke-width="0.75"/>
<line x1="408.50" y1="49.90" x2="679.80" y2="49.90" stroke="#b0b0b0" stroke-width="0.75"/>
<line x1="408.50" y1="76.70" x2="679.80" y2="76.70" stroke="#b0b0b0" stroke-width="0.75"/>
<rect x="414.80" y="62.90" width="9.00" height="40.50" fill="#0000ff" stroke="none" stroke-width="0.8"/>
<line x1="414.80" y1="62.90" x2="414.80" y2="103.40" stroke="#000" stroke-width="0.825"/>
<line x1="423.80" y1="62.90" x2="423.80" y2="103.40" stroke="#000" stroke-width="0.825"/>
<line x1="414.80" y1="62.90" x2="423.80" y2="62.90" stroke="#000" stroke-width="0.825"/>
<rect x="423.80" y="63.40" width="9.00" height="40.00" fill="#00ffff" stroke="none" stroke-width="0.8"/>
<line x1="423.80" y1="63.40" x2="423.80" y2="103.40" stroke="#000" stroke-width="0.825"/>
<line x1="432.80" y1="63.40" x2="432.80" y2="103.40" stroke="#000" stroke-width="0.825"/>
<line x1="423.80" y1="63.40" x2="432.80" y2="63.40" stroke="#000" stroke-width="0.825"/>
<rect x="438.88" y="53.40" width="9.00" height="50.00" fill="#0000ff" stroke="none" stroke-width="0.8"/>
<line x1="438.88" y1="53.40" x2="438.88" y2="103.40" stroke="#000" stroke-width="0.825"/>
<line x1="447.88" y1="53.40" x2="447.88" y2="103.40" stroke="#000" stroke-width="0.825"/>
<line x1="438.88" y1="53.40" x2="447.88" y2="53.40" stroke="#000" stroke-width="0.825"/>
<rect x="447.88" y="53.90" width="9.00" height="49.50" fill="#00ffff" stroke="none" stroke-width="0.8"/>
<line x1="447.88" y1="53.90" x2="447.88" y2="103.40" stroke="#000" stroke-width="0.825"/>
<line x1="456.88" y1="53.90" x2="456.88" y2="103.40" stroke="#000" stroke-width="0.825"/>
<line x1="447.88" y1="53.90" x2="456.88" y2="53.90" stroke="#000" stroke-width="0.825"/>
<rect x="462.96" y="50.50" width="9.00" height="52.90" fill="#0000ff" stroke="none" stroke-width="0.8"/>
<line x1="462.96" y1="50.50" x2="462.96" y2="103.40" stroke="#000" stroke-width="0.825"/>
<line x1="471.96" y1="50.50" x2="471.96" y2="103.40" stroke="#000" stroke-width="0.825"/>
<line x1="462.96" y1="50.50" x2="471.96" y2="50.50" stroke="#000" stroke-width="0.825"/>
<rect x="471.96" y="51.20" width="9.00" height="52.20" fill="#00ffff" stroke="none" stroke-width="0.8"/>
<line x1="471.96" y1="51.20" x2="471.96" y2="103.40" stroke="#000" stroke-width="0.825"/>
<line x1="480.96" y1="51.20" x2="480.96" y2="103.40" stroke="#000" stroke-width="0.825"/>
<line x1="471.96" y1="51.20" x2="480.96" y2="51.20" stroke="#000" stroke-width="0.825"/>
<rect x="487.04" y="56.00" width="9.00" height="47.40" fill="#0000ff" stroke="none" stroke-width="0.8"/>
<line x1="487.04" y1="56.00" x2="487.04" y2="103.40" stroke="#000" stroke-width="0.825"/>
<line x1="496.04" y1="56.00" x2="496.04" y2="103.40" stroke="#000" stroke-width="0.825"/>
<line x1="487.04" y1="56.00" x2="496.04" y2="56.00" stroke="#000" stroke-width="0.825"/>
<rect x="496.04" y="56.20" width="9.00" height="47.20" fill="#00ffff" stroke="none" stroke-width="0.8"/>
<line x1="496.04" y1="56.20" x2="496.04" y2="103.40" stroke="#000" stroke-width="0.825"/>
<line x1="505.04" y1="56.20" x2="505.04" y2="103.40" stroke="#000" stroke-width="0.825"/>
<line x1="496.04" y1="56.20" x2="505.04" y2="56.20" stroke="#000" stroke-width="0.825"/>
<rect x="511.12" y="40.20" width="9.00" height="63.20" fill="#0000ff" stroke="none" stroke-width="0.8"/>
<line x1="511.12" y1="40.20" x2="511.12" y2="103.40" stroke="#000" stroke-width="0.825"/>
<line x1="520.12" y1="40.20" x2="520.12" y2="103.40" stroke="#000" stroke-width="0.825"/>
<line x1="511.12" y1="40.20" x2="520.12" y2="40.20" stroke="#000" stroke-width="0.825"/>
<rect x="520.12" y="52.90" width="9.00" height="50.50" fill="#00ffff" stroke="none" stroke-width="0.8"/>
<line x1="520.12" y1="52.90" x2="520.12" y2="103.40" stroke="#000" stroke-width="0.825"/>
<line x1="529.12" y1="52.90" x2="529.12" y2="103.40" stroke="#000" stroke-width="0.825"/>
<line x1="520.12" y1="52.90" x2="529.12" y2="52.90" stroke="#000" stroke-width="0.825"/>
<rect x="535.20" y="52.10" width="9.00" height="51.30" fill="#0000ff" stroke="none" stroke-width="0.8"/>
<line x1="535.20" y1="52.10" x2="535.20" y2="103.40" stroke="#000" stroke-width="0.825"/>
<line x1="544.20" y1="52.10" x2="544.20" y2="103.40" stroke="#000" stroke-width="0.825"/>
<line x1="535.20" y1="52.10" x2="544.20" y2="52.10" stroke="#000" stroke-width="0.825"/>
<rect x="544.20" y="35.90" width="9.00" height="67.50" fill="#00ffff" stroke="none" stroke-width="0.8"/>
<line x1="544.20" y1="35.90" x2="544.20" y2="103.40" stroke="#000" stroke-width="0.825"/>
<line x1="553.20" y1="35.90" x2="553.20" y2="103.40" stroke="#000" stroke-width="0.825"/>
<rect x="559.28" y="35.90" width="9.00" height="67.50" fill="#0000ff" stroke="none" stroke-width="0.8"/>
<line x1="559.28" y1="35.90" x2="559.28" y2="103.40" stroke="#000" stroke-width="0.825"/>
<line x1="568.28" y1="35.90" x2="568.28" y2="103.40" stroke="#000" stroke-width="0.825"/>
<rect x="568.28" y="35.90" width="9.00" height="67.50" fill="#00ffff" stroke="none" stroke-width="0.8"/>
<line x1="568.28" y1="35.90" x2="568.28" y2="103.40" stroke="#000" stroke-width="0.825"/>
<line x1="577.28" y1="35.90" x2="577.28" y2="103.40" stroke="#000" stroke-width="0.825"/>
<rect x="583.36" y="35.90" width="9.00" height="67.50" fill="#0000ff" stroke="none" stroke-width="0.8"/>
<line x1="583.36" y1="35.90" x2="583.36" y2="103.40" stroke="#000" stroke-width="0.825"/>
<line x1="592.36" y1="35.90" x2="592.36" y2="103.40" stroke="#000" stroke-width="0.825"/>
<rect x="592.36" y="35.90" width="9.00" height="67.50" fill="#00ffff" stroke="none" stroke-width="0.8"/>
<line x1="592.36" y1="35.90" x2="592.36" y2="103.40" stroke="#000" stroke-width="0.825"/>
<line x1="601.36" y1="35.90" x2="601.36" y2="103.40" stroke="#000" stroke-width="0.825"/>
<rect x="607.44" y="56.30" width="9.00" height="47.10" fill="#0000ff" stroke="none" stroke-width="0.8"/>
<line x1="607.44" y1="56.30" x2="607.44" y2="103.40" stroke="#000" stroke-width="0.825"/>
<line x1="616.44" y1="56.30" x2="616.44" y2="103.40" stroke="#000" stroke-width="0.825"/>
<line x1="607.44" y1="56.30" x2="616.44" y2="56.30" stroke="#000" stroke-width="0.825"/>
<rect x="616.44" y="57.00" width="9.00" height="46.40" fill="#00ffff" stroke="none" stroke-width="0.8"/>
<line x1="616.44" y1="57.00" x2="616.44" y2="103.40" stroke="#000" stroke-width="0.825"/>
<line x1="625.44" y1="57.00" x2="625.44" y2="103.40" stroke="#000" stroke-width="0.825"/>
<line x1="616.44" y1="57.00" x2="625.44" y2="57.00" stroke="#000" stroke-width="0.825"/>
<rect x="631.52" y="35.90" width="9.00" height="67.50" fill="#0000ff" stroke="none" stroke-width="0.8"/>
<line x1="631.52" y1="35.90" x2="631.52" y2="103.40" stroke="#000" stroke-width="0.825"/>
<line x1="640.52" y1="35.90" x2="640.52" y2="103.40" stroke="#000" stroke-width="0.825"/>
<rect x="640.52" y="35.90" width="9.00" height="67.50" fill="#00ffff" stroke="none" stroke-width="0.8"/>
<line x1="640.52" y1="35.90" x2="640.52" y2="103.40" stroke="#000" stroke-width="0.825"/>
<line x1="649.52" y1="35.90" x2="649.52" y2="103.40" stroke="#000" stroke-width="0.825"/>
<rect x="655.60" y="35.90" width="9.00" height="67.50" fill="#0000ff" stroke="none" stroke-width="0.8"/>
<line x1="655.60" y1="35.90" x2="655.60" y2="103.40" stroke="#000" stroke-width="0.825"/>
<line x1="664.60" y1="35.90" x2="664.60" y2="103.40" stroke="#000" stroke-width="0.825"/>
<rect x="664.60" y="35.90" width="9.00" height="67.50" fill="#00ffff" stroke="none" stroke-width="0.8"/>
<line x1="664.60" y1="35.90" x2="664.60" y2="103.40" stroke="#000" stroke-width="0.825"/>
<line x1="673.60" y1="35.90" x2="673.60" y2="103.40" stroke="#000" stroke-width="0.825"/>
<rect x="544.20" y="33.50" width="9.00" height="1.40" fill="#00ffff" stroke="none" stroke-width="0.8"/>
<line x1="544.20" y1="33.50" x2="544.20" y2="34.90" stroke="#000" stroke-width="0.825"/>
<line x1="553.20" y1="33.50" x2="553.20" y2="34.90" stroke="#000" stroke-width="0.825"/>
<line x1="544.20" y1="33.50" x2="553.20" y2="33.50" stroke="#000" stroke-width="0.825"/>
<rect x="559.28" y="34.00" width="9.00" height="0.90" fill="#0000ff" stroke="none" stroke-width="0.8"/>
<line x1="559.28" y1="34.00" x2="559.28" y2="34.90" stroke="#000" stroke-width="0.825"/>
<line x1="568.28" y1="34.00" x2="568.28" y2="34.90" stroke="#000" stroke-width="0.825"/>
<line x1="559.28" y1="34.00" x2="568.28" y2="34.00" stroke="#000" stroke-width="0.825"/>
<rect x="568.28" y="34.00" width="9.00" height="0.90" fill="#00ffff" stroke="none" stroke-width="0.8"/>
<line x1="568.28" y1="34.00" x2="568.28" y2="34.90" stroke="#000" stroke-width="0.825"/>
<line x1="577.28" y1="34.00" x2="577.28" y2="34.90" stroke="#000" stroke-width="0.825"/>
<line x1="568.28" y1="34.00" x2="577.28" y2="34.00" stroke="#000" stroke-width="0.825"/>
<rect x="583.36" y="27.00" width="9.00" height="7.90" fill="#0000ff" stroke="none" stroke-width="0.8"/>
<line x1="583.36" y1="27.00" x2="583.36" y2="34.90" stroke="#000" stroke-width="0.825"/>
<line x1="592.36" y1="27.00" x2="592.36" y2="34.90" stroke="#000" stroke-width="0.825"/>
<line x1="583.36" y1="27.00" x2="592.36" y2="27.00" stroke="#000" stroke-width="0.825"/>
<rect x="592.36" y="27.00" width="9.00" height="7.90" fill="#00ffff" stroke="none" stroke-width="0.8"/>
<line x1="592.36" y1="27.00" x2="592.36" y2="34.90" stroke="#000" stroke-width="0.825"/>
<line x1="601.36" y1="27.00" x2="601.36" y2="34.90" stroke="#000" stroke-width="0.825"/>
<line x1="592.36" y1="27.00" x2="601.36" y2="27.00" stroke="#000" stroke-width="0.825"/>
<rect x="631.52" y="12.10" width="9.00" height="22.80" fill="#0000ff" stroke="none" stroke-width="0.8"/>
<line x1="631.52" y1="12.10" x2="631.52" y2="34.90" stroke="#000" stroke-width="0.825"/>
<line x1="640.52" y1="12.10" x2="640.52" y2="34.90" stroke="#000" stroke-width="0.825"/>
<rect x="640.52" y="14.50" width="9.00" height="20.40" fill="#00ffff" stroke="none" stroke-width="0.8"/>
<line x1="640.52" y1="14.50" x2="640.52" y2="34.90" stroke="#000" stroke-width="0.825"/>
<line x1="649.52" y1="14.50" x2="649.52" y2="34.90" stroke="#000" stroke-width="0.825"/>
<line x1="640.52" y1="14.50" x2="649.52" y2="14.50" stroke="#000" stroke-width="0.825"/>
<rect x="655.60" y="14.40" width="9.00" height="20.50" fill="#0000ff" stroke="none" stroke-width="0.8"/>
<line x1="655.60" y1="14.40" x2="655.60" y2="34.90" stroke="#000" stroke-width="0.825"/>
<line x1="664.60" y1="14.40" x2="664.60" y2="34.90" stroke="#000" stroke-width="0.825"/>
<line x1="655.60" y1="14.40" x2="664.60" y2="14.40" stroke="#000" stroke-width="0.825"/>
<rect x="664.60" y="27.40" width="9.00" height="7.50" fill="#00ffff" stroke="none" stroke-width="0.8"/>
<line x1="664.60" y1="27.40" x2="664.60" y2="34.90" stroke="#000" stroke-width="0.825"/>
<line x1="673.60" y1="27.40" x2="673.60" y2="34.90" stroke="#000" stroke-width="0.825"/>
<line x1="664.60" y1="27.40" x2="673.60" y2="27.40" stroke="#000" stroke-width="0.825"/>
<line x1="463.20" y1="34.60" x2="481.00" y2="34.60" stroke="#c8c8c8" stroke-width="0.8"/>
<line x1="511.50" y1="34.60" x2="520.50" y2="34.60" stroke="#c8c8c8" stroke-width="0.8"/>
<line x1="535.50" y1="34.60" x2="544.00" y2="34.60" stroke="#c8c8c8" stroke-width="0.8"/>
<line x1="408.50" y1="12.10" x2="679.80" y2="12.10" stroke="#000" stroke-width="0.792"/>
<line x1="408.50" y1="103.40" x2="679.80" y2="103.40" stroke="#000" stroke-width="0.792"/>
<line x1="408.50" y1="12.10" x2="408.50" y2="34.90" stroke="#000" stroke-width="0.792"/>
<line x1="408.50" y1="35.90" x2="408.50" y2="103.40" stroke="#000" stroke-width="0.792"/>
<line x1="679.80" y1="12.10" x2="679.80" y2="34.90" stroke="#000" stroke-width="0.792"/>
<line x1="679.80" y1="35.90" x2="679.80" y2="103.40" stroke="#000" stroke-width="0.792"/>
<line x1="423.80" y1="103.40" x2="423.80" y2="106.50" stroke="#000" stroke-width="0.85"/>
<line x1="447.88" y1="103.40" x2="447.88" y2="106.50" stroke="#000" stroke-width="0.85"/>
<line x1="471.96" y1="103.40" x2="471.96" y2="106.50" stroke="#000" stroke-width="0.85"/>
<line x1="496.04" y1="103.40" x2="496.04" y2="106.50" stroke="#000" stroke-width="0.85"/>
<line x1="520.12" y1="103.40" x2="520.12" y2="106.50" stroke="#000" stroke-width="0.85"/>
<line x1="544.20" y1="103.40" x2="544.20" y2="106.50" stroke="#000" stroke-width="0.85"/>
<line x1="568.28" y1="103.40" x2="568.28" y2="106.50" stroke="#000" stroke-width="0.85"/>
<line x1="592.36" y1="103.40" x2="592.36" y2="106.50" stroke="#000" stroke-width="0.85"/>
<line x1="616.44" y1="103.40" x2="616.44" y2="106.50" stroke="#000" stroke-width="0.85"/>
<line x1="640.52" y1="103.40" x2="640.52" y2="106.50" stroke="#000" stroke-width="0.85"/>
<line x1="664.60" y1="103.40" x2="664.60" y2="106.50" stroke="#000" stroke-width="0.85"/>
<line x1="405.40" y1="15.10" x2="408.50" y2="15.10" stroke="#000" stroke-width="0.85"/>
<text x="402.50" y="18.30" font-size="8.75" text-anchor="end" textLength="15.75" lengthAdjust="spacingAndGlyphs" fill="#000" stroke="#000" stroke-width="0.150">200</text>
<line x1="405.40" y1="25.20" x2="408.50" y2="25.20" stroke="#000" stroke-width="0.85"/>
<text x="402.50" y="28.40" font-size="8.75" text-anchor="end" textLength="15.75" lengthAdjust="spacingAndGlyphs" fill="#000" stroke="#000" stroke-width="0.150">100</text>
<line x1="405.40" y1="103.40" x2="408.50" y2="103.40" stroke="#000" stroke-width="0.85"/>
<text x="402.50" y="106.60" font-size="8.75" text-anchor="end" textLength="5.25" lengthAdjust="spacingAndGlyphs" fill="#000" stroke="#000" stroke-width="0.150">0</text>
<line x1="405.40" y1="76.70" x2="408.50" y2="76.70" stroke="#000" stroke-width="0.85"/>
<text x="402.50" y="79.90" font-size="8.75" text-anchor="end" textLength="5.25" lengthAdjust="spacingAndGlyphs" fill="#000" stroke="#000" stroke-width="0.150">2</text>
<line x1="405.40" y1="49.90" x2="408.50" y2="49.90" stroke="#000" stroke-width="0.85"/>
<text x="402.50" y="53.10" font-size="8.75" text-anchor="end" textLength="5.25" lengthAdjust="spacingAndGlyphs" fill="#000" stroke="#000" stroke-width="0.150">4</text>
<polyline points="404.30,34.70 412.90,34.10" fill="none" stroke="#000" stroke-width="1.2" stroke-linejoin="round" stroke-linecap="butt"/>
<polyline points="404.30,37.50 412.90,35.20" fill="none" stroke="#000" stroke-width="1.2" stroke-linejoin="round" stroke-linecap="butt"/>
<polyline points="675.20,34.70 685.40,34.10" fill="none" stroke="#000" stroke-width="1.2" stroke-linejoin="round" stroke-linecap="butt"/>
<polyline points="675.20,37.50 685.40,35.20" fill="none" stroke="#000" stroke-width="1.2" stroke-linejoin="round" stroke-linecap="butt"/>
<text x="544.15" y="7.00" font-size="10.49" text-anchor="middle" textLength="201.53" lengthAdjust="spacingAndGlyphs" fill="#000" stroke="#000" stroke-width="0.150">Internal Consistency [m] (Single Vehicle)</text>
<text transform="translate(384.00,70.15) rotate(-90)" font-size="8.75" text-anchor="middle" textLength="66.98" lengthAdjust="spacingAndGlyphs" fill="#000" stroke="#000" stroke-width="0.150">Consistency [m]</text>
<line x1="423.80" y1="141.55" x2="423.80" y2="164.25" stroke="#b0b0b0" stroke-width="0.75"/>
<line x1="423.80" y1="165.85" x2="423.80" y2="233.40" stroke="#b0b0b0" stroke-width="0.75"/>
<line x1="447.88" y1="141.55" x2="447.88" y2="164.25" stroke="#b0b0b0" stroke-width="0.75"/>
<line x1="447.88" y1="165.85" x2="447.88" y2="233.40" stroke="#b0b0b0" stroke-width="0.75"/>
<line x1="471.96" y1="141.55" x2="471.96" y2="164.25" stroke="#b0b0b0" stroke-width="0.75"/>
<line x1="471.96" y1="165.85" x2="471.96" y2="233.40" stroke="#b0b0b0" stroke-width="0.75"/>
<line x1="496.04" y1="141.55" x2="496.04" y2="164.25" stroke="#b0b0b0" stroke-width="0.75"/>
<line x1="496.04" y1="165.85" x2="496.04" y2="233.40" stroke="#b0b0b0" stroke-width="0.75"/>
<line x1="520.12" y1="141.55" x2="520.12" y2="164.25" stroke="#b0b0b0" stroke-width="0.75"/>
<line x1="520.12" y1="165.85" x2="520.12" y2="233.40" stroke="#b0b0b0" stroke-width="0.75"/>
<line x1="544.20" y1="141.55" x2="544.20" y2="164.25" stroke="#b0b0b0" stroke-width="0.75"/>
<line x1="544.20" y1="165.85" x2="544.20" y2="233.40" stroke="#b0b0b0" stroke-width="0.75"/>
<line x1="568.28" y1="141.55" x2="568.28" y2="164.25" stroke="#b0b0b0" stroke-width="0.75"/>
<line x1="568.28" y1="165.85" x2="568.28" y2="233.40" stroke="#b0b0b0" stroke-width="0.75"/>
<line x1="592.36" y1="141.55" x2="592.36" y2="164.25" stroke="#b0b0b0" stroke-width="0.75"/>
<line x1="592.36" y1="165.85" x2="592.36" y2="233.40" stroke="#b0b0b0" stroke-width="0.75"/>
<line x1="616.44" y1="141.55" x2="616.44" y2="164.25" stroke="#b0b0b0" stroke-width="0.75"/>
<line x1="616.44" y1="165.85" x2="616.44" y2="233.40" stroke="#b0b0b0" stroke-width="0.75"/>
<line x1="640.52" y1="141.55" x2="640.52" y2="164.25" stroke="#b0b0b0" stroke-width="0.75"/>
<line x1="640.52" y1="165.85" x2="640.52" y2="233.40" stroke="#b0b0b0" stroke-width="0.75"/>
<line x1="664.60" y1="141.55" x2="664.60" y2="164.25" stroke="#b0b0b0" stroke-width="0.75"/>
<line x1="664.60" y1="165.85" x2="664.60" y2="233.40" stroke="#b0b0b0" stroke-width="0.75"/>
<line x1="408.50" y1="142.30" x2="679.80" y2="142.30" stroke="#b0b0b0" stroke-width="0.75"/>
<line x1="408.50" y1="153.50" x2="679.80" y2="153.50" stroke="#b0b0b0" stroke-width="0.75"/>
<line x1="408.50" y1="216.60" x2="679.80" y2="216.60" stroke="#b0b0b0" stroke-width="0.75"/>
<line x1="408.50" y1="199.80" x2="679.80" y2="199.80" stroke="#b0b0b0" stroke-width="0.75"/>
<line x1="408.50" y1="183.00" x2="679.80" y2="183.00" stroke="#b0b0b0" stroke-width="0.75"/>
<line x1="408.50" y1="166.20" x2="679.80" y2="166.20" stroke="#b0b0b0" stroke-width="0.75"/>
<rect x="414.80" y="165.85" width="9.00" height="67.55" fill="#0000ff" stroke="none" stroke-width="0.8"/>
<line x1="414.80" y1="165.85" x2="414.80" y2="233.40" stroke="#000" stroke-width="0.825"/>
<line x1="423.80" y1="165.85" x2="423.80" y2="233.40" stroke="#000" stroke-width="0.825"/>
<rect x="423.80" y="165.85" width="9.00" height="67.55" fill="#00ffff" stroke="none" stroke-width="0.8"/>
<line x1="423.80" y1="165.85" x2="423.80" y2="233.40" stroke="#000" stroke-width="0.825"/>
<line x1="432.80" y1="165.85" x2="432.80" y2="233.40" stroke="#000" stroke-width="0.825"/>
<rect x="438.88" y="182.53" width="9.00" height="50.87" fill="#0000ff" stroke="none" stroke-width="0.8"/>
<line x1="438.88" y1="182.53" x2="438.88" y2="233.40" stroke="#000" stroke-width="0.825"/>
<line x1="447.88" y1="182.53" x2="447.88" y2="233.40" stroke="#000" stroke-width="0.825"/>
<line x1="438.88" y1="182.53" x2="447.88" y2="182.53" stroke="#000" stroke-width="0.825"/>
<rect x="447.88" y="182.13" width="9.00" height="51.27" fill="#00ffff" stroke="none" stroke-width="0.8"/>
<line x1="447.88" y1="182.13" x2="447.88" y2="233.40" stroke="#000" stroke-width="0.825"/>
<line x1="456.88" y1="182.13" x2="456.88" y2="233.40" stroke="#000" stroke-width="0.825"/>
<line x1="447.88" y1="182.13" x2="456.88" y2="182.13" stroke="#000" stroke-width="0.825"/>
<rect x="462.96" y="204.97" width="9.00" height="28.43" fill="#0000ff" stroke="none" stroke-width="0.8"/>
<line x1="462.96" y1="204.97" x2="462.96" y2="233.40" stroke="#000" stroke-width="0.825"/>
<line x1="471.96" y1="204.97" x2="471.96" y2="233.40" stroke="#000" stroke-width="0.825"/>
<line x1="462.96" y1="204.97" x2="471.96" y2="204.97" stroke="#000" stroke-width="0.825"/>
<rect x="471.96" y="204.17" width="9.00" height="29.23" fill="#00ffff" stroke="none" stroke-width="0.8"/>
<line x1="471.96" y1="204.17" x2="471.96" y2="233.40" stroke="#000" stroke-width="0.825"/>
<line x1="480.96" y1="204.17" x2="480.96" y2="233.40" stroke="#000" stroke-width="0.825"/>
<line x1="471.96" y1="204.17" x2="480.96" y2="204.17" stroke="#000" stroke-width="0.825"/>
<rect x="487.04" y="196.31" width="9.00" height="37.09" fill="#0000ff" stroke="none" stroke-width="0.8"/>
<line x1="487.04" y1="196.31" x2="487.04" y2="233.40" stroke="#000" stroke-width="0.825"/>
<line x1="496.04" y1="196.31" x2="496.04" y2="233.40" stroke="#000" stroke-width="0.825"/>
<line x1="487.04" y1="196.31" x2="496.04" y2="196.31" stroke="#000" stroke-width="0.825"/>
<rect x="496.04" y="195.90" width="9.00" height="37.50" fill="#00ffff" stroke="none" stroke-width="0.8"/>
<line x1="496.04" y1="195.90" x2="496.04" y2="233.40" stroke="#000" stroke-width="0.825"/>
<line x1="505.04" y1="195.90" x2="505.04" y2="233.40" stroke="#000" stroke-width="0.825"/>
<line x1="496.04" y1="195.90" x2="505.04" y2="195.90" stroke="#000" stroke-width="0.825"/>
<rect x="511.12" y="170.97" width="9.00" height="62.43" fill="#0000ff" stroke="none" stroke-width="0.8"/>
<line x1="511.12" y1="170.97" x2="511.12" y2="233.40" stroke="#000" stroke-width="0.825"/>
<line x1="520.12" y1="170.97" x2="520.12" y2="233.40" stroke="#000" stroke-width="0.825"/>
<line x1="511.12" y1="170.97" x2="520.12" y2="170.97" stroke="#000" stroke-width="0.825"/>
<rect x="520.12" y="174.33" width="9.00" height="59.07" fill="#00ffff" stroke="none" stroke-width="0.8"/>
<line x1="520.12" y1="174.33" x2="520.12" y2="233.40" stroke="#000" stroke-width="0.825"/>
<line x1="529.12" y1="174.33" x2="529.12" y2="233.40" stroke="#000" stroke-width="0.825"/>
<line x1="520.12" y1="174.33" x2="529.12" y2="174.33" stroke="#000" stroke-width="0.825"/>
<rect x="535.20" y="165.85" width="9.00" height="67.55" fill="#0000ff" stroke="none" stroke-width="0.8"/>
<line x1="535.20" y1="165.85" x2="535.20" y2="233.40" stroke="#000" stroke-width="0.825"/>
<line x1="544.20" y1="165.85" x2="544.20" y2="233.40" stroke="#000" stroke-width="0.825"/>
<rect x="544.20" y="165.85" width="9.00" height="67.55" fill="#00ffff" stroke="none" stroke-width="0.8"/>
<line x1="544.20" y1="165.85" x2="544.20" y2="233.40" stroke="#000" stroke-width="0.825"/>
<line x1="553.20" y1="165.85" x2="553.20" y2="233.40" stroke="#000" stroke-width="0.825"/>
<rect x="559.28" y="183.34" width="9.00" height="50.06" fill="#0000ff" stroke="none" stroke-width="0.8"/>
<line x1="559.28" y1="183.34" x2="559.28" y2="233.40" stroke="#000" stroke-width="0.825"/>
<line x1="568.28" y1="183.34" x2="568.28" y2="233.40" stroke="#000" stroke-width="0.825"/>
<line x1="559.28" y1="183.34" x2="568.28" y2="183.34" stroke="#000" stroke-width="0.825"/>
<rect x="568.28" y="183.47" width="9.00" height="49.93" fill="#00ffff" stroke="none" stroke-width="0.8"/>
<line x1="568.28" y1="183.47" x2="568.28" y2="233.40" stroke="#000" stroke-width="0.825"/>
<line x1="577.28" y1="183.47" x2="577.28" y2="233.40" stroke="#000" stroke-width="0.825"/>
<line x1="568.28" y1="183.47" x2="577.28" y2="183.47" stroke="#000" stroke-width="0.825"/>
<rect x="583.36" y="165.85" width="9.00" height="67.55" fill="#0000ff" stroke="none" stroke-width="0.8"/>
<line x1="583.36" y1="165.85" x2="583.36" y2="233.40" stroke="#000" stroke-width="0.825"/>
<line x1="592.36" y1="165.85" x2="592.36" y2="233.40" stroke="#000" stroke-width="0.825"/>
<rect x="592.36" y="165.85" width="9.00" height="67.55" fill="#00ffff" stroke="none" stroke-width="0.8"/>
<line x1="592.36" y1="165.85" x2="592.36" y2="233.40" stroke="#000" stroke-width="0.825"/>
<line x1="601.36" y1="165.85" x2="601.36" y2="233.40" stroke="#000" stroke-width="0.825"/>
<rect x="607.44" y="196.98" width="9.00" height="36.42" fill="#0000ff" stroke="none" stroke-width="0.8"/>
<line x1="607.44" y1="196.98" x2="607.44" y2="233.40" stroke="#000" stroke-width="0.825"/>
<line x1="616.44" y1="196.98" x2="616.44" y2="233.40" stroke="#000" stroke-width="0.825"/>
<line x1="607.44" y1="196.98" x2="616.44" y2="196.98" stroke="#000" stroke-width="0.825"/>
<rect x="616.44" y="200.67" width="9.00" height="32.73" fill="#00ffff" stroke="none" stroke-width="0.8"/>
<line x1="616.44" y1="200.67" x2="616.44" y2="233.40" stroke="#000" stroke-width="0.825"/>
<line x1="625.44" y1="200.67" x2="625.44" y2="233.40" stroke="#000" stroke-width="0.825"/>
<line x1="616.44" y1="200.67" x2="625.44" y2="200.67" stroke="#000" stroke-width="0.825"/>
<rect x="631.52" y="165.85" width="9.00" height="67.55" fill="#0000ff" stroke="none" stroke-width="0.8"/>
<line x1="631.52" y1="165.85" x2="631.52" y2="233.40" stroke="#000" stroke-width="0.825"/>
<line x1="640.52" y1="165.85" x2="640.52" y2="233.40" stroke="#000" stroke-width="0.825"/>
<rect x="640.52" y="165.85" width="9.00" height="67.55" fill="#00ffff" stroke="none" stroke-width="0.8"/>
<line x1="640.52" y1="165.85" x2="640.52" y2="233.40" stroke="#000" stroke-width="0.825"/>
<line x1="649.52" y1="165.85" x2="649.52" y2="233.40" stroke="#000" stroke-width="0.825"/>
<rect x="655.60" y="165.85" width="9.00" height="67.55" fill="#0000ff" stroke="none" stroke-width="0.8"/>
<line x1="655.60" y1="165.85" x2="655.60" y2="233.40" stroke="#000" stroke-width="0.825"/>
<line x1="664.60" y1="165.85" x2="664.60" y2="233.40" stroke="#000" stroke-width="0.825"/>
<rect x="664.60" y="165.85" width="9.00" height="67.55" fill="#00ffff" stroke="none" stroke-width="0.8"/>
<line x1="664.60" y1="165.85" x2="664.60" y2="233.40" stroke="#000" stroke-width="0.825"/>
<line x1="673.60" y1="165.85" x2="673.60" y2="233.40" stroke="#000" stroke-width="0.825"/>
<rect x="631.52" y="156.30" width="9.00" height="7.95" fill="#0000ff" stroke="none" stroke-width="0.8"/>
<line x1="631.52" y1="156.30" x2="631.52" y2="164.25" stroke="#000" stroke-width="0.825"/>
<line x1="640.52" y1="156.30" x2="640.52" y2="164.25" stroke="#000" stroke-width="0.825"/>
<line x1="631.52" y1="156.30" x2="640.52" y2="156.30" stroke="#000" stroke-width="0.825"/>
<rect x="640.52" y="141.55" width="9.00" height="22.70" fill="#00ffff" stroke="none" stroke-width="0.8"/>
<line x1="640.52" y1="141.55" x2="640.52" y2="164.25" stroke="#000" stroke-width="0.825"/>
<line x1="649.52" y1="141.55" x2="649.52" y2="164.25" stroke="#000" stroke-width="0.825"/>
<line x1="414.80" y1="163.70" x2="432.80" y2="163.70" stroke="#404040" stroke-width="0.8"/>
<line x1="438.88" y1="163.70" x2="456.88" y2="163.70" stroke="#8a8a8a" stroke-width="0.8"/>
<line x1="462.96" y1="163.70" x2="480.96" y2="163.70" stroke="#c8c8c8" stroke-width="0.8"/>
<line x1="487.04" y1="163.70" x2="505.04" y2="163.70" stroke="#b0b0b0" stroke-width="0.8"/>
<line x1="511.12" y1="163.70" x2="529.12" y2="163.70" stroke="#808080" stroke-width="0.8"/>
<line x1="535.20" y1="163.70" x2="553.20" y2="163.70" stroke="#505050" stroke-width="0.8"/>
<line x1="559.28" y1="163.70" x2="577.28" y2="163.70" stroke="#a8a8a8" stroke-width="0.8"/>
<line x1="583.36" y1="163.70" x2="601.36" y2="163.70" stroke="#404040" stroke-width="0.8"/>
<line x1="607.44" y1="163.70" x2="625.44" y2="163.70" stroke="#c8c8c8" stroke-width="0.8"/>
<line x1="655.60" y1="163.70" x2="673.60" y2="163.70" stroke="#303030" stroke-width="0.8"/>
<line x1="408.50" y1="141.55" x2="679.80" y2="141.55" stroke="#000" stroke-width="0.792"/>
<line x1="408.50" y1="233.40" x2="679.80" y2="233.40" stroke="#000" stroke-width="0.792"/>
<line x1="408.50" y1="141.55" x2="408.50" y2="164.25" stroke="#000" stroke-width="0.792"/>
<line x1="408.50" y1="165.85" x2="408.50" y2="233.40" stroke="#000" stroke-width="0.792"/>
<line x1="679.80" y1="141.55" x2="679.80" y2="164.25" stroke="#000" stroke-width="0.792"/>
<line x1="679.80" y1="165.85" x2="679.80" y2="233.40" stroke="#000" stroke-width="0.792"/>
<line x1="423.80" y1="233.40" x2="423.80" y2="236.50" stroke="#000" stroke-width="0.85"/>
<line x1="447.88" y1="233.40" x2="447.88" y2="236.50" stroke="#000" stroke-width="0.85"/>
<line x1="471.96" y1="233.40" x2="471.96" y2="236.50" stroke="#000" stroke-width="0.85"/>
<line x1="496.04" y1="233.40" x2="496.04" y2="236.50" stroke="#000" stroke-width="0.85"/>
<line x1="520.12" y1="233.40" x2="520.12" y2="236.50" stroke="#000" stroke-width="0.85"/>
<line x1="544.20" y1="233.40" x2="544.20" y2="236.50" stroke="#000" stroke-width="0.85"/>
<line x1="568.28" y1="233.40" x2="568.28" y2="236.50" stroke="#000" stroke-width="0.85"/>
<line x1="592.36" y1="233.40" x2="592.36" y2="236.50" stroke="#000" stroke-width="0.85"/>
<line x1="616.44" y1="233.40" x2="616.44" y2="236.50" stroke="#000" stroke-width="0.85"/>
<line x1="640.52" y1="233.40" x2="640.52" y2="236.50" stroke="#000" stroke-width="0.85"/>
<line x1="664.60" y1="233.40" x2="664.60" y2="236.50" stroke="#000" stroke-width="0.85"/>
<line x1="405.40" y1="142.30" x2="408.50" y2="142.30" stroke="#000" stroke-width="0.85"/>
<text x="402.50" y="145.50" font-size="8.75" text-anchor="end" textLength="15.75" lengthAdjust="spacingAndGlyphs" fill="#000" stroke="#000" stroke-width="0.150">400</text>
<line x1="405.40" y1="153.50" x2="408.50" y2="153.50" stroke="#000" stroke-width="0.85"/>
<text x="402.50" y="156.70" font-size="8.75" text-anchor="end" textLength="15.75" lengthAdjust="spacingAndGlyphs" fill="#000" stroke="#000" stroke-width="0.150">200</text>
<line x1="405.40" y1="233.40" x2="408.50" y2="233.40" stroke="#000" stroke-width="0.85"/>
<text x="402.50" y="236.60" font-size="8.75" text-anchor="end" textLength="13.12" lengthAdjust="spacingAndGlyphs" fill="#000" stroke="#000" stroke-width="0.150">0.0</text>
<line x1="405.40" y1="216.60" x2="408.50" y2="216.60" stroke="#000" stroke-width="0.85"/>
<text x="402.50" y="219.80" font-size="8.75" text-anchor="end" textLength="13.12" lengthAdjust="spacingAndGlyphs" fill="#000" stroke="#000" stroke-width="0.150">2.5</text>
<line x1="405.40" y1="199.80" x2="408.50" y2="199.80" stroke="#000" stroke-width="0.85"/>
<text x="402.50" y="203.00" font-size="8.75" text-anchor="end" textLength="13.12" lengthAdjust="spacingAndGlyphs" fill="#000" stroke="#000" stroke-width="0.150">5.0</text>
<line x1="405.40" y1="183.00" x2="408.50" y2="183.00" stroke="#000" stroke-width="0.85"/>
<text x="402.50" y="186.20" font-size="8.75" text-anchor="end" textLength="13.12" lengthAdjust="spacingAndGlyphs" fill="#000" stroke="#000" stroke-width="0.150">7.5</text>
<line x1="405.40" y1="166.20" x2="408.50" y2="166.20" stroke="#000" stroke-width="0.85"/>
<text x="402.50" y="169.40" font-size="8.75" text-anchor="end" textLength="18.37" lengthAdjust="spacingAndGlyphs" fill="#000" stroke="#000" stroke-width="0.150">10.0</text>
<polyline points="404.30,164.35 412.90,163.75" fill="none" stroke="#000" stroke-width="1.2" stroke-linejoin="round" stroke-linecap="butt"/>
<polyline points="404.30,167.15 412.90,164.85" fill="none" stroke="#000" stroke-width="1.2" stroke-linejoin="round" stroke-linecap="butt"/>
<polyline points="675.20,164.35 685.40,163.75" fill="none" stroke="#000" stroke-width="1.2" stroke-linejoin="round" stroke-linecap="butt"/>
<polyline points="675.20,167.15 685.40,164.85" fill="none" stroke="#000" stroke-width="1.2" stroke-linejoin="round" stroke-linecap="butt"/>
<text x="544.15" y="136.85" font-size="10.49" text-anchor="middle" textLength="187.43" lengthAdjust="spacingAndGlyphs" fill="#000" stroke="#000" stroke-width="0.150">Platoon Consistency [m] (All Vehicles)</text>
<text transform="translate(370.70,200.12) rotate(-90)" font-size="8.75" text-anchor="middle" textLength="66.98" lengthAdjust="spacingAndGlyphs" fill="#000" stroke="#000" stroke-width="0.150">Consistency [m]</text>
<text transform="translate(422.59,243.83) rotate(-45)" font-size="8.75" text-anchor="end" textLength="15.39" lengthAdjust="spacingAndGlyphs" fill="#000" stroke="#000" stroke-width="0.150">CFA</text>
<text transform="translate(446.67,243.83) rotate(-45)" font-size="8.75" text-anchor="end" textLength="27.55" lengthAdjust="spacingAndGlyphs" fill="#000" stroke="#000" stroke-width="0.150">REDET</text>
<text transform="translate(470.75,243.83) rotate(-45)" font-size="8.75" text-anchor="end" textLength="46.27" lengthAdjust="spacingAndGlyphs" fill="#000" stroke="#000" stroke-width="0.150">ROI_TRANS</text>
<text transform="translate(494.83,243.83) rotate(-45)" font-size="8.75" text-anchor="end" textLength="16.13" lengthAdjust="spacingAndGlyphs" fill="#000" stroke="#000" stroke-width="0.150">S2A</text>
<text transform="translate(518.91,243.83) rotate(-45)" font-size="8.75" text-anchor="end" textLength="40.73" lengthAdjust="spacingAndGlyphs" fill="#000" stroke="#000" stroke-width="0.150">RetinaNet</text>
<text transform="translate(542.99,243.83) rotate(-45)" font-size="8.75" text-anchor="end" textLength="23.42" lengthAdjust="spacingAndGlyphs" fill="#000" stroke="#000" stroke-width="0.150">RCNN</text>
<text transform="translate(567.07,243.83) rotate(-45)" font-size="8.75" text-anchor="end" textLength="25.12" lengthAdjust="spacingAndGlyphs" fill="#000" stroke="#000" stroke-width="0.150">Yolo N</text>
<text transform="translate(591.15,243.83) rotate(-45)" font-size="8.75" text-anchor="end" textLength="24.19" lengthAdjust="spacingAndGlyphs" fill="#000" stroke="#000" stroke-width="0.150">Yolo S</text>
<text transform="translate(615.23,243.83) rotate(-45)" font-size="8.75" text-anchor="end" textLength="26.07" lengthAdjust="spacingAndGlyphs" fill="#000" stroke="#000" stroke-width="0.150">Yolo M</text>
<text transform="translate(639.31,243.83) rotate(-45)" font-size="8.75" text-anchor="end" textLength="23.55" lengthAdjust="spacingAndGlyphs" fill="#000" stroke="#000" stroke-width="0.150">Yolo L</text>
<text transform="translate(663.39,243.83) rotate(-45)" font-size="8.75" text-anchor="end" textLength="24.60" lengthAdjust="spacingAndGlyphs" fill="#000" stroke="#000" stroke-width="0.150">Yolo X</text>
</svg>
</body></html>
